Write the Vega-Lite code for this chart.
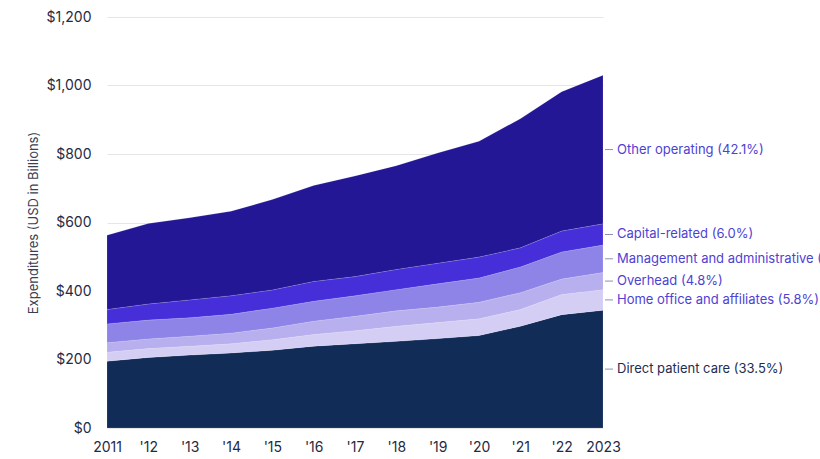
{
  "$schema": "https://vega.github.io/schema/vega-lite/v6.json",
  "width": 496,
  "height": 411,
  "autosize": "none",
  "padding": {"left": 107, "top": 17, "right": 217, "bottom": 31},
  "background": "white",
  "config": {
    "view": {"stroke": null},
    "font": "Inter",
    "axis": {"labelFont": "Inter", "titleFont": "Inter"}
  },
  "datasets": {
    "shares": [
      {"category": "Direct patient care", "share": "33.5%"},
      {"category": "Home office and affiliates", "share": "5.8%"},
      {"category": "Overhead", "share": "4.8%"},
      {"category": "Management and administrative", "share": "7.8%"},
      {"category": "Capital-related", "share": "6.0%"},
      {"category": "Other operating", "share": "42.1%"}
    ]
  },
  "data": {
    "values": [
      {"year": 2011, "category": "Direct patient care", "order": 1, "value": 195},
      {"year": 2011, "category": "Home office and affiliates", "order": 2, "value": 26},
      {"year": 2011, "category": "Overhead", "order": 3, "value": 28},
      {"year": 2011, "category": "Management and administrative", "order": 4, "value": 55},
      {"year": 2011, "category": "Capital-related", "order": 5, "value": 42},
      {"year": 2011, "category": "Other operating", "order": 6, "value": 217},
      {"year": 2012, "category": "Direct patient care", "order": 1, "value": 206},
      {"year": 2012, "category": "Home office and affiliates", "order": 2, "value": 26},
      {"year": 2012, "category": "Overhead", "order": 3, "value": 28},
      {"year": 2012, "category": "Management and administrative", "order": 4, "value": 55},
      {"year": 2012, "category": "Capital-related", "order": 5, "value": 47},
      {"year": 2012, "category": "Other operating", "order": 6, "value": 235},
      {"year": 2013, "category": "Direct patient care", "order": 1, "value": 213},
      {"year": 2013, "category": "Home office and affiliates", "order": 2, "value": 26},
      {"year": 2013, "category": "Overhead", "order": 3, "value": 29},
      {"year": 2013, "category": "Management and administrative", "order": 4, "value": 54},
      {"year": 2013, "category": "Capital-related", "order": 5, "value": 52},
      {"year": 2013, "category": "Other operating", "order": 6, "value": 240},
      {"year": 2014, "category": "Direct patient care", "order": 1, "value": 219},
      {"year": 2014, "category": "Home office and affiliates", "order": 2, "value": 27},
      {"year": 2014, "category": "Overhead", "order": 3, "value": 31},
      {"year": 2014, "category": "Management and administrative", "order": 4, "value": 55},
      {"year": 2014, "category": "Capital-related", "order": 5, "value": 54},
      {"year": 2014, "category": "Other operating", "order": 6, "value": 247},
      {"year": 2015, "category": "Direct patient care", "order": 1, "value": 227},
      {"year": 2015, "category": "Home office and affiliates", "order": 2, "value": 31},
      {"year": 2015, "category": "Overhead", "order": 3, "value": 34},
      {"year": 2015, "category": "Management and administrative", "order": 4, "value": 58},
      {"year": 2015, "category": "Capital-related", "order": 5, "value": 53},
      {"year": 2015, "category": "Other operating", "order": 6, "value": 264},
      {"year": 2016, "category": "Direct patient care", "order": 1, "value": 239},
      {"year": 2016, "category": "Home office and affiliates", "order": 2, "value": 34},
      {"year": 2016, "category": "Overhead", "order": 3, "value": 39},
      {"year": 2016, "category": "Management and administrative", "order": 4, "value": 58},
      {"year": 2016, "category": "Capital-related", "order": 5, "value": 58},
      {"year": 2016, "category": "Other operating", "order": 6, "value": 280},
      {"year": 2017, "category": "Direct patient care", "order": 1, "value": 246},
      {"year": 2017, "category": "Home office and affiliates", "order": 2, "value": 38},
      {"year": 2017, "category": "Overhead", "order": 3, "value": 42},
      {"year": 2017, "category": "Management and administrative", "order": 4, "value": 60},
      {"year": 2017, "category": "Capital-related", "order": 5, "value": 56},
      {"year": 2017, "category": "Other operating", "order": 6, "value": 294},
      {"year": 2018, "category": "Direct patient care", "order": 1, "value": 253},
      {"year": 2018, "category": "Home office and affiliates", "order": 2, "value": 44},
      {"year": 2018, "category": "Overhead", "order": 3, "value": 45},
      {"year": 2018, "category": "Management and administrative", "order": 4, "value": 62},
      {"year": 2018, "category": "Capital-related", "order": 5, "value": 59},
      {"year": 2018, "category": "Other operating", "order": 6, "value": 303},
      {"year": 2019, "category": "Direct patient care", "order": 1, "value": 261},
      {"year": 2019, "category": "Home office and affiliates", "order": 2, "value": 47},
      {"year": 2019, "category": "Overhead", "order": 3, "value": 45},
      {"year": 2019, "category": "Management and administrative", "order": 4, "value": 68},
      {"year": 2019, "category": "Capital-related", "order": 5, "value": 60},
      {"year": 2019, "category": "Other operating", "order": 6, "value": 322},
      {"year": 2020, "category": "Direct patient care", "order": 1, "value": 270},
      {"year": 2020, "category": "Home office and affiliates", "order": 2, "value": 49},
      {"year": 2020, "category": "Overhead", "order": 3, "value": 48},
      {"year": 2020, "category": "Management and administrative", "order": 4, "value": 71},
      {"year": 2020, "category": "Capital-related", "order": 5, "value": 61},
      {"year": 2020, "category": "Other operating", "order": 6, "value": 338},
      {"year": 2021, "category": "Direct patient care", "order": 1, "value": 297},
      {"year": 2021, "category": "Home office and affiliates", "order": 2, "value": 49},
      {"year": 2021, "category": "Overhead", "order": 3, "value": 49},
      {"year": 2021, "category": "Management and administrative", "order": 4, "value": 75},
      {"year": 2021, "category": "Capital-related", "order": 5, "value": 56},
      {"year": 2021, "category": "Other operating", "order": 6, "value": 377},
      {"year": 2022, "category": "Direct patient care", "order": 1, "value": 331},
      {"year": 2022, "category": "Home office and affiliates", "order": 2, "value": 59},
      {"year": 2022, "category": "Overhead", "order": 3, "value": 45},
      {"year": 2022, "category": "Management and administrative", "order": 4, "value": 79},
      {"year": 2022, "category": "Capital-related", "order": 5, "value": 61},
      {"year": 2022, "category": "Other operating", "order": 6, "value": 407},
      {"year": 2023, "category": "Direct patient care", "order": 1, "value": 344},
      {"year": 2023, "category": "Home office and affiliates", "order": 2, "value": 60},
      {"year": 2023, "category": "Overhead", "order": 3, "value": 50},
      {"year": 2023, "category": "Management and administrative", "order": 4, "value": 80},
      {"year": 2023, "category": "Capital-related", "order": 5, "value": 62},
      {"year": 2023, "category": "Other operating", "order": 6, "value": 434}
    ]
  },
  "layer": [
    {
      "mark": {"type": "area", "stroke": "white", "strokeWidth": 0.5, "strokeOpacity": 0.25},
      "encoding": {
        "x": {
          "field": "year", "type": "quantitative",
          "scale": {"domain": [2011, 2023], "nice": false, "zero": false},
          "axis": {
            "title": null, "grid": false, "domain": false, "ticks": false,
            "values": [2011, 2012, 2013, 2014, 2015, 2016, 2017, 2018, 2019, 2020, 2021, 2022, 2023],
            "labelExpr": "datum.value == 2011 || datum.value == 2023 ? '' + datum.value : \"'\" + slice('' + datum.value, 2)",
            "labelFlush": false, "labelPadding": 12, "labelFontSize": 14, "labelColor": "#1F2A44"
          }
        },
        "y": {
          "field": "value", "type": "quantitative", "stack": "zero",
          "scale": {"domain": [0, 1200], "nice": false},
          "axis": {
            "title": "Expenditures (USD in Billions)",
            "values": [0, 200, 400, 600, 800, 1000, 1200],
            "format": "$,.0f", "domain": false, "ticks": false,
            "gridColor": "#E6E6E6", "labelPadding": 16, "labelFontSize": 14,
            "labelColor": "#1F2A44", "titleFontSize": 13, "titleFontWeight": "normal",
            "titleColor": "#3A4050", "titlePadding": 6
          }
        },
        "color": {
          "field": "category", "type": "nominal", "legend": null,
          "scale": {
            "domain": ["Direct patient care", "Home office and affiliates", "Overhead", "Management and administrative", "Capital-related", "Other operating"],
            "range": ["#122C58", "#D4CEF5", "#B7AFEE", "#8E84E8", "#462FD9", "#231795"]
          }
        },
        "order": {"field": "order", "type": "quantitative"}
      }
    },
    {
      "transform": [
        {"filter": "datum.year == 2023"},
        {"stack": "value", "groupby": ["year"], "sort": [{"field": "order"}], "as": ["y0", "y1"]},
        {"calculate": "(datum.y0 + datum.y1) / 2", "as": "mid"}
      ],
      "mark": {"type": "rule", "xOffset": 2, "x2Offset": 10, "color": "#8A93AD", "strokeWidth": 1},
      "encoding": {
        "x": {"field": "year", "type": "quantitative"},
        "x2": {"field": "year"},
        "y": {"field": "mid", "type": "quantitative"}
      }
    },
    {
      "transform": [
        {"filter": "datum.year == 2023"},
        {"stack": "value", "groupby": ["year"], "sort": [{"field": "order"}], "as": ["y0", "y1"]},
        {"calculate": "(datum.y0 + datum.y1) / 2", "as": "mid"},
        {"lookup": "category", "from": {"data": {"name": "shares"}, "key": "category", "fields": ["share"]}},
        {"calculate": "datum.category + ' (' + datum.share + ')'", "as": "label"}
      ],
      "mark": {"type": "text", "align": "left", "baseline": "middle", "dx": 14, "fontSize": 13, "font": "Inter"},
      "encoding": {
        "x": {"field": "year", "type": "quantitative"},
        "y": {"field": "mid", "type": "quantitative"},
        "text": {"field": "label"},
        "color": {"condition": {"test": "datum.category === 'Direct patient care'", "value": "#1E2D52"}, "value": "#4E42D4"}
      }
    }
  ]
}
